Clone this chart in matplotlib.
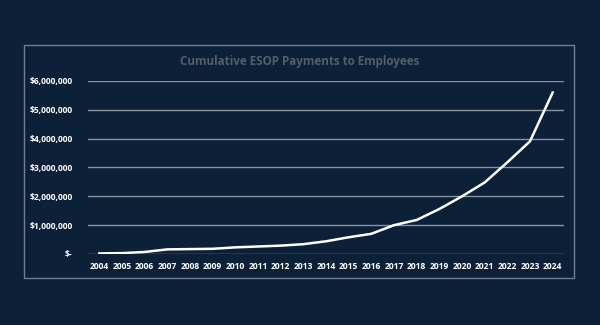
import matplotlib.pyplot as plt
from matplotlib.patches import Rectangle
from matplotlib.ticker import FuncFormatter

years = list(range(2004, 2025))
payments = [20000, 30000, 70000, 160000, 170000, 180000, 230000, 260000,
            290000, 340000, 440000, 580000, 700000, 1000000, 1180000,
            1560000, 2000000, 2480000, 3180000, 3910000, 5600000]
y_ticks = [0, 1000000, 2000000, 3000000, 4000000, 5000000, 6000000]

bg = '#0c2038'
plt.rcParams['font.family'] = ['Open Sans', 'DejaVu Sans']

fig = plt.figure(figsize=(6, 3.25), dpi=100)
fig.patch.set_facecolor(bg)

# chart frame
fig.patches.append(Rectangle((0.04, 0.145), 0.917, 0.717, transform=fig.transFigure,
                             fill=False, edgecolor='#6f7f8f', linewidth=1.0))

ax = fig.add_axes([0.1467, 0.2185, 0.7933, 0.5323])
ax.set_facecolor(bg)
x = list(range(len(years)))
ax.plot(x, payments, color='white', linewidth=1.8, zorder=3)

def money(v, pos):
    if v == 0:
        return '$-'
    return '${:,.0f}'.format(v)

ax.set_xlim(-0.5, len(years) - 0.5)
ax.set_ylim(0, 6000000)
ax.set_yticks(y_ticks)
ax.yaxis.set_major_formatter(FuncFormatter(money))
ax.set_xticks(x)
ax.set_xticklabels([str(y) for y in years])
ax.grid(axis='y', color='#8a95a0', linewidth=1.0)
ax.set_axisbelow(True)
for s in ax.spines.values():
    s.set_visible(False)
ax.tick_params(length=0, colors='white', labelsize=6.1)
ax.tick_params(axis='y', pad=11)
ax.tick_params(axis='x', pad=6)
for lab in ax.get_xticklabels() + ax.get_yticklabels():
    lab.set_fontweight('bold')

fig.text(0.5, 0.81, 'Cumulative ESOP Payments to Employees', ha='center', va='center',
         color='#525e6a', fontsize=8.4, fontweight='bold')

plt.savefig('out.png', dpi=100, facecolor=bg)
